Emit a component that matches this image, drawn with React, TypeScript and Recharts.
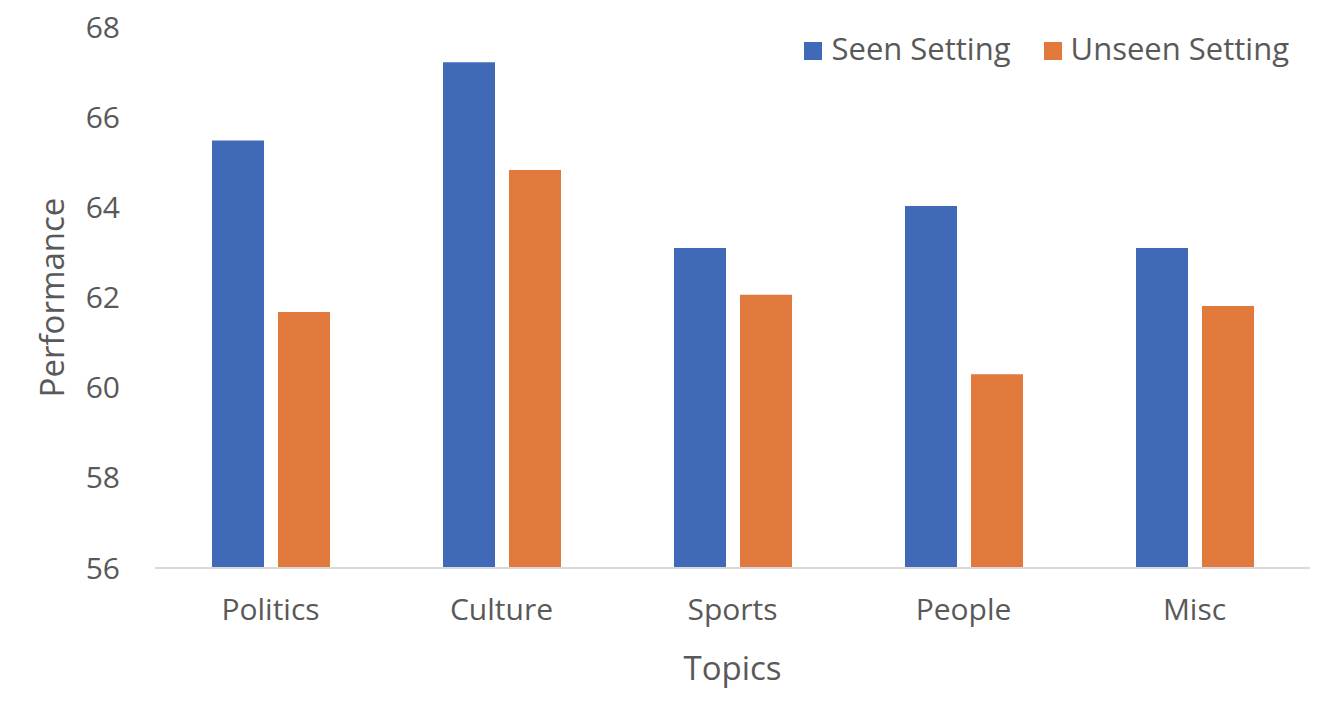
import { BarChart, Bar, XAxis, YAxis, Label } from "recharts";

// ---- data ----
const topics = ["Politics", "Culture", "Sports", "People", "Misc"];
const seenSetting = [65.48, 67.22, 63.1, 64.03, 63.1];
const unseenSetting = [61.68, 64.83, 62.06, 60.3, 61.81];
const yTicks = [56, 58, 60, 62, 64, 66, 68];

const BLUE = "#4069B8";
const ORANGE = "#E0793B";
const TEXT = "#595959";
const FONT = "'Open Sans', sans-serif";

const rows = topics.map((topic, i) => ({
  topic,
  seen: seenSetting[i],
  unseen: unseenSetting[i],
}));

/* ---- legend, Excel style, laid over the chart ---- */
function ChartLegend() {
  const items = [
    { label: "Seen Setting", color: BLUE },
    { label: "Unseen Setting", color: ORANGE },
  ];
  return (
    <div
      style={{
        position: "absolute",
        top: 28,
        right: 41,
        display: "flex",
        gap: 33,
        fontFamily: FONT,
      }}
    >
      {items.map((it) => (
        <div key={it.label} style={{ display: "flex", alignItems: "center" }}>
          <span
            style={{
              width: 18,
              height: 18,
              background: it.color,
              display: "inline-block",
              marginRight: 9,
              marginTop: 6,
            }}
          />
          <span style={{ fontSize: 31, color: TEXT, lineHeight: "40px" }}>{it.label}</span>
        </div>
      ))}
    </div>
  );
}

export default function App() {
  return (
    <div style={{ position: "absolute", left: 0, top: 0, width: 1330, height: 702, background: "#fff" }}>
      <BarChart
        width={1330}
        height={702}
        data={rows}
        margin={{ top: 27, right: 20, left: 55, bottom: 64 }}
        barSize={52}
        barGap={14}
        barCategoryGap={57}
      >
        <XAxis
          dataKey="topic"
          height={70}
          tickSize={0}
          tickMargin={31}
          axisLine={{ stroke: "#D9D9D9", strokeWidth: 2 }}
          tick={{ fill: TEXT, fontFamily: FONT, fontSize: 30 }}
        >
          <Label
            value="Topics"
            position="insideBottom"
            offset={-42}
            style={{ fill: TEXT, fontFamily: FONT, fontSize: 33 }}
          />
        </XAxis>
        <YAxis
          width={100}
          domain={[56, 68]}
          ticks={yTicks}
          interval={0}
          tickSize={0}
          tickMargin={35}
          axisLine={false}
          tickLine={false}
          tick={{ fill: TEXT, fontFamily: FONT, fontSize: 30 }}
        >
          <Label
            value="Performance"
            angle={-90}
            position="insideLeft"
            offset={-3}
            style={{ fill: TEXT, fontFamily: FONT, fontSize: 33, textAnchor: "middle" }}
          />
        </YAxis>
        <Bar dataKey="seen" name="Seen Setting" fill={BLUE} isAnimationActive={false} />
        <Bar dataKey="unseen" name="Unseen Setting" fill={ORANGE} isAnimationActive={false} />
      </BarChart>
      <ChartLegend />
    </div>
  );
}
